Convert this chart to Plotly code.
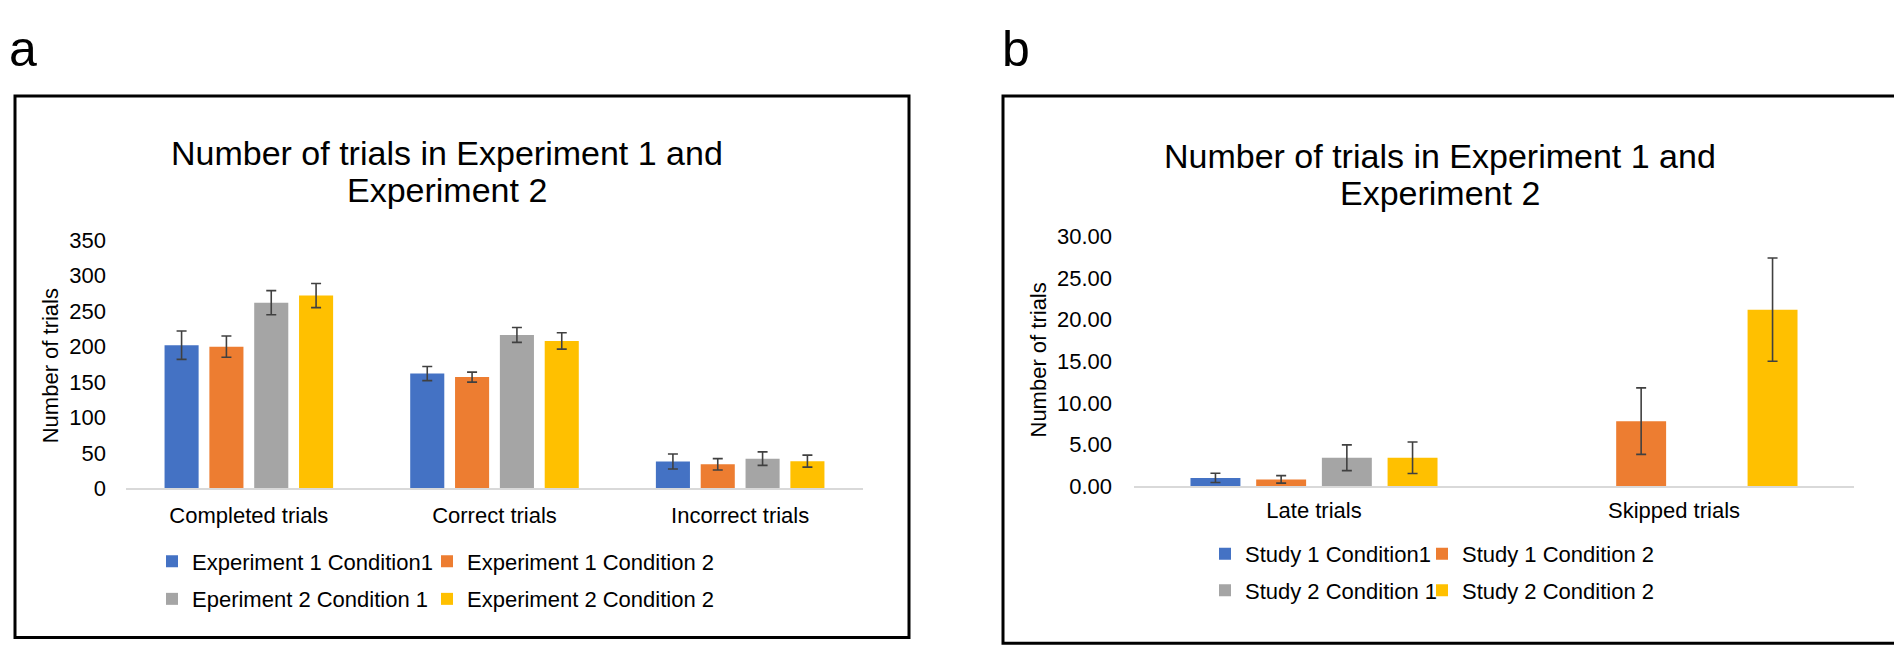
import plotly.graph_objects as go

# ---------------- data ----------------
cats_a = ["Completed trials", "Correct trials", "Incorrect trials"]
names_a = ["Experiment 1 Condition1", "Experiment 1 Condition 2",
           "Eperiment 2 Condition 1", "Experiment 2 Condition 2"]
exp1_c1 = [202, 162, 38]
exp1_c2 = [200, 157, 34]
exp2_c1 = [262, 216.5, 42]
exp2_c2 = [272, 208, 38.5]
exp1_c1_err = [20, 10, 10.5]
exp1_c2_err = [15, 7, 8]
exp2_c1_err = [17, 10.5, 9.5]
exp2_c2_err = [17, 11.5, 8.5]

cats_b = ["Late trials", "Skipped trials"]
names_b = ["Study 1 Condition1", "Study 1 Condition 2",
           "Study 2 Condition 1", "Study 2 Condition 2"]
st1_c1 = [0.98, None]
st1_c2 = [0.80, 7.8]
st2_c1 = [3.4, None]
st2_c2 = [3.4, 21.2]
st1_c1_err = [0.56, 0]
st1_c2_err = [0.45, 4.0]
st2_c1_err = [1.55, 0]
st2_c2_err = [1.9, 6.2]

colors = ["#4472C4", "#ED7D31", "#A5A5A5", "#FFC000"]
FONT = "Liberation Sans, Arial, sans-serif"
W, H = 1902, 656


def px(x):
    return x / W


def py(y):
    return 1 - y / H


fig = go.Figure()

vals_a = [exp1_c1, exp1_c2, exp2_c1, exp2_c2]
errs_a = [exp1_c1_err, exp1_c2_err, exp2_c1_err, exp2_c2_err]
legs_a = ["legend", "legend2", "legend3", "legend4"]
for n, v, e, c, lg in zip(names_a, vals_a, errs_a, colors, legs_a):
    fig.add_trace(go.Bar(
        x=cats_a, y=v, name=n, marker=dict(color=c, line=dict(width=0)),
        error_y=dict(type="data", array=e, visible=True, color="#404040",
                     thickness=1.6, width=5),
        xaxis="x", yaxis="y", legend=lg, showlegend=True))

vals_b = [st1_c1, st1_c2, st2_c1, st2_c2]
errs_b = [st1_c1_err, st1_c2_err, st2_c1_err, st2_c2_err]
legs_b = ["legend5", "legend6", "legend7", "legend8"]
for n, v, e, c, lg in zip(names_b, vals_b, errs_b, colors, legs_b):
    fig.add_trace(go.Bar(
        x=cats_b, y=v, name=n, marker=dict(color=c, line=dict(width=0)),
        error_y=dict(type="data", array=e, visible=True, color="#404040",
                     thickness=1.6, width=5),
        xaxis="x2", yaxis="y2", legend=lg, showlegend=True))

axis_font = dict(family=FONT, size=22, color="#000000")

leg_common = dict(orientation="h", font=axis_font, bgcolor="rgba(0,0,0,0)",
                  xanchor="left", yanchor="middle", itemsizing="constant",
                  visible=True)

fig.update_layout(
    width=W, height=H, margin=dict(l=0, r=0, t=0, b=0),
    paper_bgcolor="white", plot_bgcolor="white", showlegend=True,
    barmode="group", bargap=0.27, bargroupgap=0.24,
    font=dict(family=FONT, color="#000000"),
    xaxis=dict(domain=[px(118), px(855)], anchor="y", showline=True,
               linecolor="#D9D9D9", linewidth=2, ticks="", showgrid=False,
               tickfont=axis_font, ticklabelstandoff=6),
    yaxis=dict(domain=[py(487), py(229)], anchor="x", range=[0, 350],
               dtick=50, showline=False, showgrid=False, zeroline=False,
               ticks="", tickfont=axis_font, ticklabelstandoff=19),
    xaxis2=dict(domain=[px(1126), px(1846)], anchor="y2", showline=True,
                linecolor="#D9D9D9", linewidth=2, ticks="", showgrid=False,
                tickfont=axis_font, ticklabelstandoff=4),
    yaxis2=dict(domain=[py(484.5), py(225)], anchor="x2", range=[0, 30],
                dtick=5, tickformat=".2f", showline=False, showgrid=False,
                zeroline=False, ticks="", tickfont=axis_font,
                ticklabelstandoff=21),
    legend=dict(x=px(144), y=py(563), **leg_common),
    legend2=dict(x=px(419), y=py(563), **leg_common),
    legend3=dict(x=px(144), y=py(602), **leg_common),
    legend4=dict(x=px(419), y=py(602), **leg_common),
    legend5=dict(x=px(1197), y=py(555), **leg_common),
    legend6=dict(x=px(1414), y=py(555), **leg_common),
    legend7=dict(x=px(1197), y=py(593), **leg_common),
    legend8=dict(x=px(1414), y=py(593), **leg_common),
)

shapes = [
    dict(type="rect", xref="paper", yref="paper", x0=px(7), x1=px(901),
         y0=py(642), y1=py(79), line=dict(color="black", width=3)),
    dict(type="rect", xref="paper", yref="paper", x0=px(995), x1=px(1895),
         y0=py(648), y1=py(79), line=dict(color="black", width=3)),
]
fig.update_layout(shapes=shapes)

title_font = dict(family=FONT, size=34, color="#000000")
ann = [
    dict(text="a", x=px(0), y=1, xanchor="left", yanchor="top", borderpad=0,
         font=dict(family=FONT, size=50, color="black")),
    dict(text="b", x=px(993), y=1, xanchor="left", yanchor="top", borderpad=0,
         font=dict(family=FONT, size=50, color="black")),
    dict(text="Number of trials in Experiment 1 and", x=px(439), y=py(138),
         xanchor="center", yanchor="middle", font=title_font),
    dict(text="Experiment 2", x=px(439), y=py(177),
         xanchor="center", yanchor="middle", font=title_font),
    dict(text="Number of trials in Experiment 1 and", x=px(1432), y=py(141),
         xanchor="center", yanchor="middle", font=title_font),
    dict(text="Experiment 2", x=px(1432), y=py(180),
         xanchor="center", yanchor="middle", font=title_font),
    dict(text="Number of trials", x=px(42), y=py(360), textangle=-90,
         xanchor="center", yanchor="middle", font=axis_font),
    dict(text="Number of trials", x=px(1031), y=py(354), textangle=-90,
         xanchor="center", yanchor="middle", font=axis_font),
]
for a in ann:
    a.update(xref="paper", yref="paper", showarrow=False)
fig.update_layout(annotations=ann)

fig.write_html("out.html")
